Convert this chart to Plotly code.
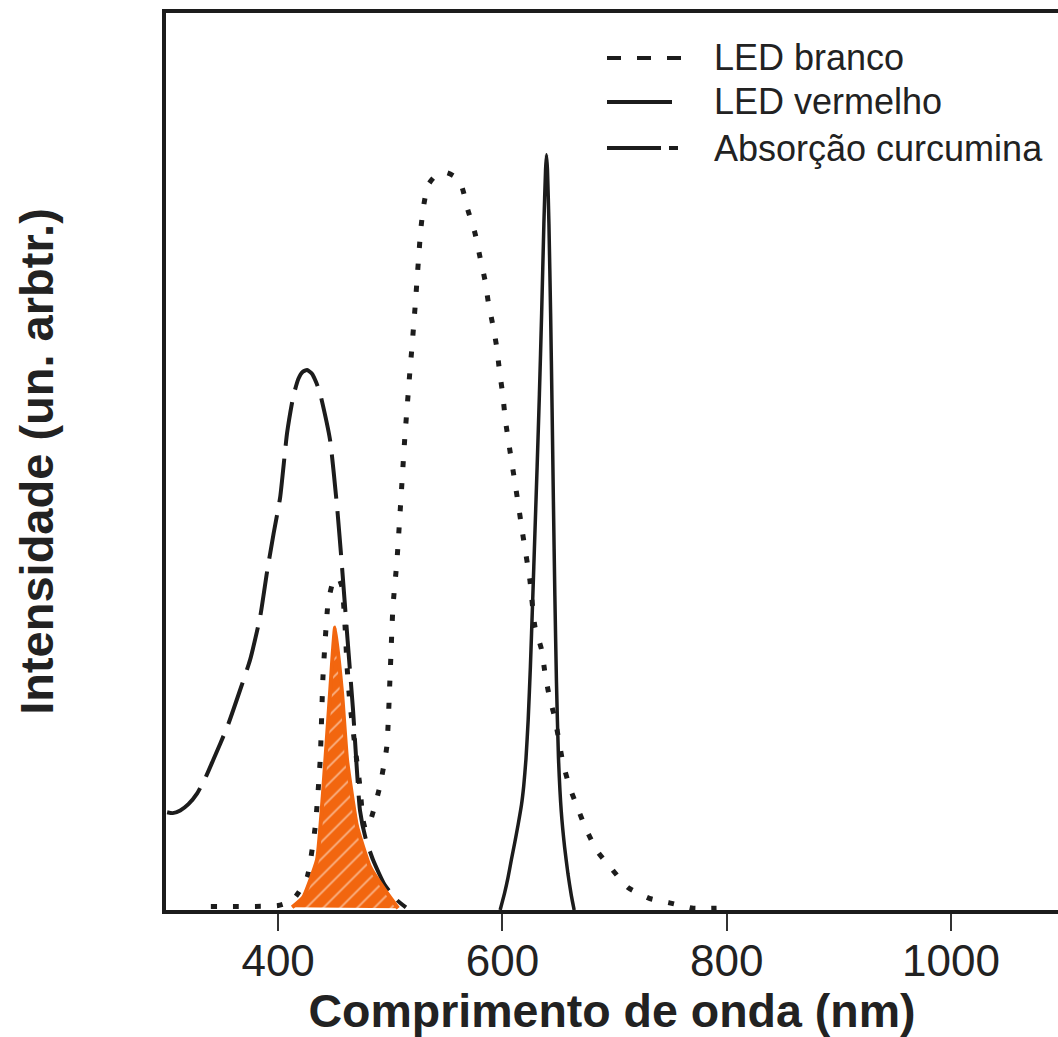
import plotly.graph_objects as go

# Spectra (wavelength in nm, intensity in arbitrary units)
white_nm = [340, 360, 380, 400, 412, 418, 426, 433, 437.5, 440, 444.5, 448, 451, 454, 457,
            459.7, 461.5, 464, 468.6, 473, 475.7, 478, 481, 484.4, 490.6, 496.9, 499.8, 502.4,
            506, 513, 516, 517.6, 519.4, 521, 522.5, 524, 525.5, 527, 529.5, 533.6, 540, 550,
            557, 563.9, 569.3, 575.5, 580, 584.5, 587.5, 591.5, 595, 597.5, 600.4, 602.5, 605,
            612, 618, 624.5, 629, 635, 638, 642, 646.8, 654, 660, 667, 675, 685, 698, 712, 731,
            749, 770, 791]
white_int = [0.004, 0.004, 0.004, 0.005, 0.010, 0.019, 0.037, 0.092, 0.167, 0.260, 0.342, 0.362,
             0.370, 0.370, 0.360, 0.316, 0.271, 0.231, 0.182, 0.137, 0.100, 0.090, 0.095, 0.108,
             0.137, 0.182, 0.260, 0.338, 0.390, 0.527, 0.576, 0.602, 0.628, 0.654, 0.678, 0.705,
             0.730, 0.756, 0.783, 0.808, 0.818, 0.822, 0.818, 0.806, 0.780, 0.755, 0.728, 0.702,
             0.677, 0.652, 0.627, 0.600, 0.574, 0.548, 0.526, 0.470, 0.420, 0.368, 0.316, 0.290,
             0.264, 0.237, 0.214, 0.164, 0.137, 0.114, 0.089, 0.065, 0.045, 0.025, 0.013, 0.008,
             0.002, 0.002]

red_nm = [598, 602, 605, 608, 611, 614, 617, 619, 621, 623, 625, 627, 629, 631, 633, 635,
          637, 638.5, 639.3, 640.2, 641.5, 643, 644.3, 645.5, 646.8, 648.2, 650, 652.5, 655.5,
          658.5, 661.5, 664]
red_int = [0.0, 0.019, 0.036, 0.056, 0.075, 0.095, 0.117, 0.138, 0.168, 0.212, 0.272, 0.345,
           0.420, 0.495, 0.575, 0.665, 0.765, 0.825, 0.842, 0.825, 0.765, 0.665, 0.560, 0.455,
           0.350, 0.255, 0.170, 0.110, 0.070, 0.040, 0.016, 0.0]

abs_nm = [301, 306, 312.7, 320, 327.8, 335, 342, 354.6, 366, 375, 384, 390, 396, 401.8, 408,
          413.4, 418, 422, 425.8, 430, 434, 437.4, 446.3, 452.6, 457, 462, 466.8, 473, 478,
          484.6, 495, 506, 514]
abs_int = [0.109, 0.108, 0.111, 0.118, 0.130, 0.147, 0.167, 0.204, 0.245, 0.279, 0.327, 0.376,
           0.420, 0.460, 0.532, 0.572, 0.592, 0.600, 0.602, 0.598, 0.588, 0.576, 0.524, 0.449,
           0.382, 0.300, 0.223, 0.111, 0.080, 0.056, 0.028, 0.011, 0.003]

# Hand-coloured blue emission band
blue_nm = [412.5, 422.3, 434.7, 440, 446.3, 450.8, 457, 461.5, 470.4, 482, 497, 507]
blue_int = [0.003, 0.014, 0.056, 0.130, 0.242, 0.315, 0.242, 0.167, 0.093, 0.048, 0.019, 0.002]

x_ticks = [400, 600, 800, 1000]
legend_labels = ["LED branco", "LED vermelho", "Absorção curcumina"]

INK = "#1c1c1c"
ORANGE = "#F2660F"
FONT = "Liberation Sans, Arial, sans-serif"

DASH_WHITE = "6px,16px"
DASH_ABS = "44px,13px"

fig = go.Figure()

fig.add_trace(go.Scatter(x=abs_nm, y=abs_int, mode="lines",
                         line=dict(color=INK, width=4, dash=DASH_ABS, shape="spline", smoothing=0.5),
                         showlegend=False))
fig.add_trace(go.Scatter(x=white_nm, y=white_int, mode="lines",
                         line=dict(color=INK, width=5, dash=DASH_WHITE, shape="spline", smoothing=0.5),
                         showlegend=False))
fig.add_trace(go.Scatter(x=red_nm, y=red_int, mode="lines",
                         line=dict(color=INK, width=3.5, shape="spline", smoothing=0.5),
                         showlegend=False))
fig.add_trace(go.Scatter(x=blue_nm, y=blue_int, mode="lines", fill="toself",
                         fillcolor=ORANGE,
                         fillpattern=dict(shape="/", fgcolor="white", bgcolor=ORANGE,
                                          size=12, solidity=0.15),
                         line=dict(color=ORANGE, width=4, shape="spline", smoothing=0.4),
                         showlegend=False))

# Plot-area geometry in pixels
L, T, W, H = 166, 13, 892, 897


def px_x(p):
    return (p - L) / W


def px_y(p):
    return (T + H - p) / H


# Legend drawn as line samples plus labels (paper coordinates)
legend_rows = [58, 102, 148]
legend_dash = ["14px,16px", "solid", "54px,8px"]
legend_x1 = [681, 672, 678]
for row, dash, x1, label in zip(legend_rows, legend_dash, legend_x1, legend_labels):
    fig.add_shape(type="line", xref="paper", yref="paper",
                  x0=px_x(607), x1=px_x(x1), y0=px_y(row), y1=px_y(row),
                  line=dict(color=INK, width=4, dash=dash))
    fig.add_annotation(xref="paper", yref="paper", x=px_x(712), y=px_y(row),
                       xanchor="left", yanchor="middle", showarrow=False, text=label,
                       font=dict(family=FONT, size=36, color="#222"))

fig.update_layout(
    width=1058, height=1037,
    margin=dict(l=L, r=0, t=T, b=1037 - T - H),
    paper_bgcolor="white", plot_bgcolor="white",
    font=dict(family=FONT, color="#222"),
    showlegend=False,
)
fig.update_xaxes(
    range=[300, 1095.5], tickvals=x_ticks, ticktext=[str(v) for v in x_ticks],
    ticks="outside", ticklen=17, tickwidth=2, tickcolor="#333",
    ticklabelstandoff=-8,
    tickfont=dict(family=FONT, size=44, color="#222"),
    showline=True, linewidth=4, linecolor=INK, mirror=True,
    showgrid=False, zeroline=False, automargin=False,
    title=dict(text="<b>Comprimento de onda (nm)</b>", standoff=6,
               font=dict(family=FONT, size=46.5, color="#222")),
)
fig.update_yaxes(
    range=[0, 1.0], showticklabels=False, ticks="",
    showline=True, linewidth=4, linecolor=INK, mirror=False,
    showgrid=False, zeroline=False, automargin=False,
    title=dict(text="<b>Intensidade (un. arbtr.)</b>", standoff=95,
               font=dict(family=FONT, size=47, color="#222")),
)

fig.write_html("out.html")
